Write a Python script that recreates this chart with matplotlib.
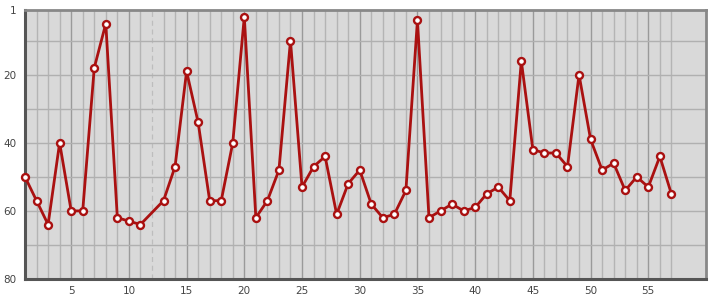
import matplotlib
matplotlib.use("Agg")
import matplotlib.pyplot as plt
import numpy as np

# rank per round; round 12 has no value
rounds = [1, 2, 3, 4, 5, 6, 7, 8, 9, 10, 11, 13, 14, 15, 16, 17, 18, 19, 20,
          21, 22, 23, 24, 25, 26, 27, 28, 29, 30, 31, 32, 33, 34, 35, 36, 37,
          38, 39, 40, 41, 42, 43, 44, 45, 46, 47, 48, 49, 50, 51, 52, 53, 54,
          55, 56, 57]
ranks = [50, 57, 64, 40, 60, 60, 18, 5, 62, 63, 64, 57, 47, 19, 34, 57, 57, 40,
         3, 62, 57, 48, 10, 53, 47, 44, 61, 52, 48, 58, 62, 61, 54, 4, 62, 60,
         58, 60, 59, 55, 53, 57, 16, 42, 43, 43, 47, 20, 39, 48, 46, 54, 50, 53,
         44, 55]
missing_rounds = [12]
y_ticks = [1, 20, 40, 60, 80]
x_ticks = [5, 10, 15, 20, 25, 30, 35, 40, 45, 50, 55]

fig = plt.figure(figsize=(7.15, 3.0), dpi=100)
ax = fig.add_axes([25 / 715, 21 / 300, 681 / 715, 269 / 300])
ax.set_facecolor("#d9d9d9")

# vertical grid: one line per round, darker every 5
for r in range(1, 58):
    if r in missing_rounds:
        ax.axvline(r, color="#bdbdbd", lw=0.9, ls=(0, (4, 3)), zorder=1)
    elif r % 5 == 0:
        ax.axvline(r, color="#9a9a9a", lw=1.0, zorder=1)
    else:
        ax.axvline(r, color="#b4b4b4", lw=1.0, zorder=1)
for v in range(10, 80, 10):
    ax.axhline(v, color="#b0b0b0", lw=1.0, zorder=1)

ax.plot(rounds, ranks, color="#aa1111", lw=2.0, marker="o", ms=5.0,
        mfc="white", mec="#aa1111", mew=1.7, zorder=3, clip_on=False)

ax.set_xlim(1, 60)
ax.set_ylim(80, 1)
ax.set_yticks(y_ticks)
ax.set_xticks(x_ticks)
ax.tick_params(length=0, labelsize=7.5, colors="#444444", pad=5)
ax.tick_params(axis="y", pad=6)

for side in ("left", "bottom"):
    ax.spines[side].set_color("#555555")
    ax.spines[side].set_linewidth(2.2)
for side in ("top", "right"):
    ax.spines[side].set_color("#888888")
    ax.spines[side].set_linewidth(2.0)

fig.savefig("out.png", dpi=100)
